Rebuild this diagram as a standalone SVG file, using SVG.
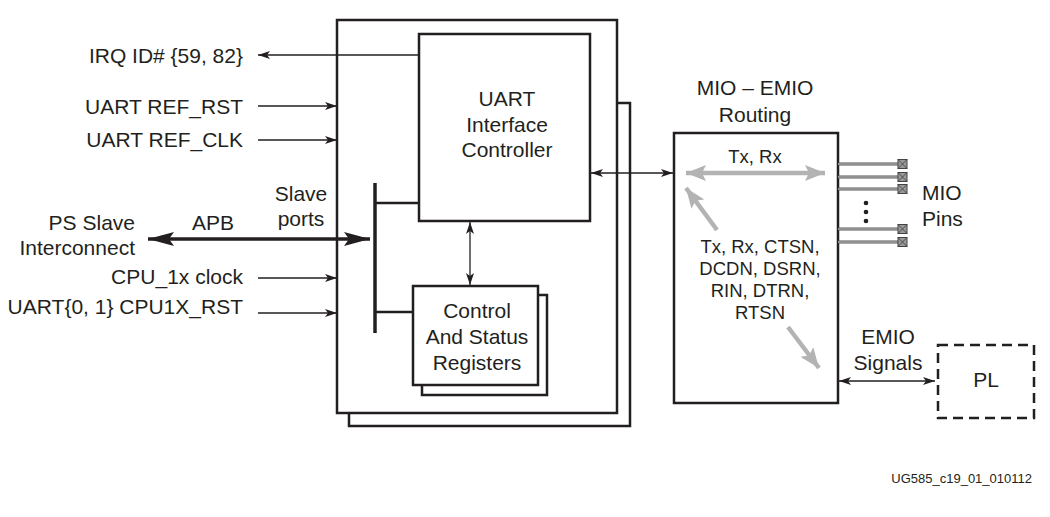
<svg xmlns="http://www.w3.org/2000/svg" width="1050" height="517" viewBox="0 0 1050 517">
<defs>
<style>
text{font-family:"Liberation Sans",Arial,sans-serif;fill:#231f20}
.t{font-size:21px}
.s{font-size:18.5px}
.box{fill:#fff;stroke:#231f20;stroke-width:2.5}
.ln{stroke:#231f20;stroke-width:1.3;fill:none}
.bus{stroke:#231f20;stroke-width:3.5;fill:none}
.gr{stroke:#b3b3b3;stroke-width:4.5;fill:none}
</style>
<marker id="ah" viewBox="0 0 12 8" refX="12" refY="4" markerWidth="12" markerHeight="8" markerUnits="userSpaceOnUse" orient="auto-start-reverse"><path d="M0,0 L12,4 L0,8 L3,4 Z" fill="#231f20"/></marker>
<marker id="big" viewBox="0 0 26 14" refX="26" refY="7" markerWidth="26" markerHeight="14" markerUnits="userSpaceOnUse" orient="auto-start-reverse"><path d="M0,0 L26,7 L0,14 L5,7 Z" fill="#231f20"/></marker>
<marker id="ga" viewBox="0 0 20 16" refX="20" refY="8" markerWidth="20" markerHeight="16" markerUnits="userSpaceOnUse" orient="auto-start-reverse"><path d="M0,0 L20,8 L0,16 L4,8 Z" fill="#b3b3b3"/></marker>
<g id="pin"><rect x="0" y="-4.5" width="9" height="9" fill="#9a9a9a" stroke="#444" stroke-width="1"/><path d="M0,-4.5 L9,4.5 M0,4.5 L9,-4.5" stroke="#444" stroke-width="0.9"/></g>
</defs>

<g id="uart-block">
<rect class="box" x="349" y="103" width="281" height="323"/>
<rect class="box" x="337" y="20" width="280" height="393"/>
</g>

<g id="uart-controller">
<rect class="box" x="419" y="34" width="171" height="187"/>
<text class="t" x="507" y="106" text-anchor="middle">UART</text>
<text class="t" x="507" y="132" text-anchor="middle">Interface</text>
<text class="t" x="507" y="157" text-anchor="middle">Controller</text>
</g>

<g id="csr">
<rect class="box" x="422" y="295" width="125" height="100"/>
<rect class="box" x="413" y="286" width="125" height="99"/>
<text class="t" x="477" y="318" text-anchor="middle">Control</text>
<text class="t" x="477" y="344" text-anchor="middle">And Status</text>
<text class="t" x="477" y="370" text-anchor="middle">Registers</text>
</g>

<g id="mio-emio">
<rect class="box" x="674" y="133" width="164" height="270"/>
<text class="t" x="755" y="95" text-anchor="middle">MIO – EMIO</text>
<text class="t" x="755" y="122" text-anchor="middle">Routing</text>
<text class="s" x="755" y="163" text-anchor="middle">Tx, Rx</text>
<text class="s" x="760" y="253" text-anchor="middle">Tx, Rx, CTSN,</text>
<text class="s" x="760" y="275" text-anchor="middle">DCDN, DSRN,</text>
<text class="s" x="760" y="297" text-anchor="middle">RIN, DTRN,</text>
<text class="s" x="760" y="319" text-anchor="middle">RTSN</text>
</g>

<g id="pl">
<rect x="938" y="345" width="96" height="73" fill="#fff" stroke="#231f20" stroke-width="2.5" stroke-dasharray="10,6"/>
<text class="t" x="986" y="387" text-anchor="middle">PL</text>
</g>

<g id="mio-pins">
<g stroke-width="3" stroke="#555"><path d="M838,164H898 M838,177H898 M838,189H898 M838,229H898 M838,242H898"/></g>
<g stroke-width="1" stroke="#ccc"><path d="M838,164H898 M838,177H898 M838,189H898 M838,229H898 M838,242H898"/></g>
<use href="#pin" x="898" y="164"/>
<use href="#pin" x="898" y="177"/>
<use href="#pin" x="898" y="189"/>
<use href="#pin" x="898" y="229"/>
<use href="#pin" x="898" y="242"/>
<circle cx="866" cy="203" r="2.3" fill="#231f20"/>
<circle cx="866" cy="212" r="2.3" fill="#231f20"/>
<circle cx="866" cy="221" r="2.3" fill="#231f20"/>
<text class="t" x="922" y="200">MIO</text>
<text class="t" x="922" y="226">Pins</text>
</g>

<g id="labels">
<text class="t" x="243" y="63" text-anchor="end">IRQ ID# {59, 82}</text>
<text class="t" x="243" y="114" text-anchor="end">UART REF_RST</text>
<text class="t" x="243" y="147" text-anchor="end">UART REF_CLK</text>
<text class="t" x="301" y="201" text-anchor="middle">Slave</text>
<text class="t" x="301" y="226" text-anchor="middle">ports</text>
<text class="t" x="213" y="230" text-anchor="middle">APB</text>
<text class="t" x="135" y="230" text-anchor="end">PS Slave</text>
<text class="t" x="135" y="255" text-anchor="end">Interconnect</text>
<text class="t" x="243" y="284" text-anchor="end">CPU_1x clock</text>
<text class="t" x="243" y="314" text-anchor="end">UART{0, 1} CPU1X_RST</text>
<text class="t" x="888" y="344" text-anchor="middle">EMIO</text>
<text class="t" x="888" y="370" text-anchor="middle">Signals</text>
<text x="1032" y="483" text-anchor="end" style="font-size:13px">UG585_c19_01_010112</text>
</g>

<g id="connectors">
<path class="ln" d="M419,55H258" marker-end="url(#ah)"/>
<path class="ln" d="M258,106H337" marker-end="url(#ah)"/>
<path class="ln" d="M258,140H337" marker-end="url(#ah)"/>
<path class="ln" d="M258,278H337" marker-end="url(#ah)"/>
<path class="ln" d="M258,313H337" marker-end="url(#ah)"/>
<path d="M148,239H370" stroke="#231f20" stroke-width="3.5" fill="none" marker-start="url(#big)" marker-end="url(#big)"/>
<path class="bus" d="M375,183V333"/>
<path d="M375,203H419 M375,312H413" stroke="#231f20" stroke-width="2.5" fill="none"/>
<path class="ln" d="M470,222V285" marker-start="url(#ah)" marker-end="url(#ah)"/>
<path class="ln" d="M591,173H673" marker-start="url(#ah)" marker-end="url(#ah)"/>
<path class="ln" d="M839,381H935" marker-start="url(#ah)" marker-end="url(#ah)"/>
<path class="gr" d="M686,173H825" marker-start="url(#ga)" marker-end="url(#ga)"/>
<path class="gr" d="M717,230L686,188" marker-end="url(#ga)"/>
<path class="gr" d="M788,327L819,368" marker-end="url(#ga)"/>
</g>
</svg>
